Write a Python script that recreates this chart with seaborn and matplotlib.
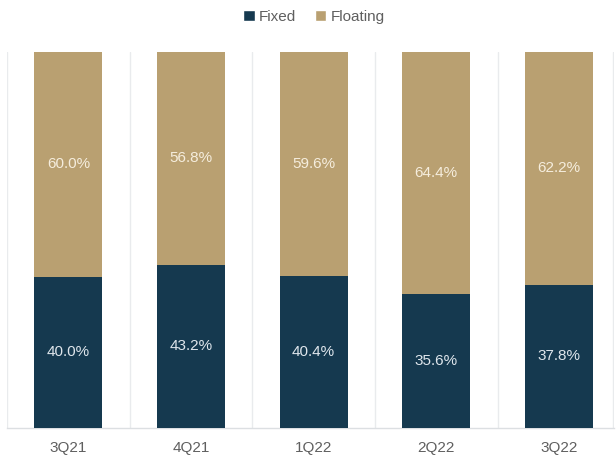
import matplotlib
matplotlib.use("Agg")
import matplotlib.pyplot as plt
import seaborn as sns
import pandas as pd
from matplotlib.patches import Patch

# Quarterly mix of fixed vs floating rate (percent of total)
quarters = ["3Q21", "4Q21", "1Q22", "2Q22", "3Q22"]
fixed = [40.0, 43.2, 40.4, 35.6, 37.8]
floating = [60.0, 56.8, 59.6, 64.4, 62.2]

FIXED_COLOR = "#15394f"
FLOAT_COLOR = "#b9a071"
TEXT_GRAY = "#5f5f5f"
SEP_GRAY = "#e9ebed"

sns.set_theme(style="white")
plt.rcParams["font.family"] = ["Liberation Sans", "DejaVu Sans"]

df = pd.DataFrame({
    "quarter": quarters,
    "fixed": fixed,
    "floating": floating,
})
df["total"] = df["fixed"] + df["floating"]

fig = plt.figure(figsize=(6.16, 4.63), dpi=100)
ax = fig.add_axes([7 / 616, 35.5 / 463, 607 / 616, 376 / 463])

bar_w = 0.555
# Full-height bars in the floating colour, fixed share drawn over the bottom
sns.barplot(data=df, x="quarter", y="total", color=FLOAT_COLOR, width=bar_w,
            saturation=1, linewidth=0, ax=ax, zorder=2)
sns.barplot(data=df, x="quarter", y="fixed", color=FIXED_COLOR, width=bar_w,
            saturation=1, linewidth=0, ax=ax, zorder=3)

for i, (fx, fl) in enumerate(zip(fixed, floating)):
    ax.text(i, fx / 2, f"{fx:.1f}%", ha="center", va="center",
            color="#dfe6ec", fontsize=11, zorder=4)
    ax.text(i, fx + fl / 2, f"{fl:.1f}%", ha="center", va="center",
            color="#f5eddd", fontsize=11, zorder=4)

ax.set_xlim(-0.5, 4.45)
ax.set_ylim(0, 100)

# Light separators between quarters
for xs in [-0.5, 0.5, 1.5, 2.5, 3.5, 4.44]:
    ax.axvline(xs, color=SEP_GRAY, lw=1.0, zorder=1)

for side in ["top", "left", "right"]:
    ax.spines[side].set_visible(False)
ax.spines["bottom"].set_color("#dcdfe2")
ax.spines["bottom"].set_linewidth(1.0)

ax.set_xlabel("")
ax.set_ylabel("")
ax.set_yticks([])
ax.tick_params(axis="x", length=0, pad=10, labelsize=11, labelcolor=TEXT_GRAY)

handles = [Patch(facecolor=FIXED_COLOR, label="Fixed"),
           Patch(facecolor=FLOAT_COLOR, label="Floating")]
fig.legend(handles=handles, loc="center", bbox_to_anchor=(314 / 616, 1 - 17 / 463),
           ncol=2, frameon=False, fontsize=11, labelcolor=TEXT_GRAY,
           handlelength=0.75, handleheight=0.75, handletextpad=0.3,
           columnspacing=1.2)

fig.savefig("out.png", dpi=100)
